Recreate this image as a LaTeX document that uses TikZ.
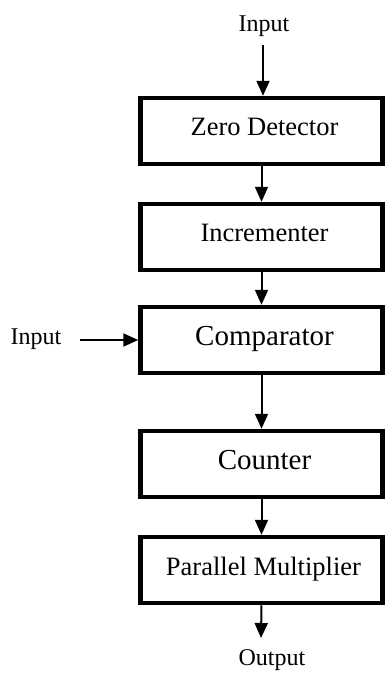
\documentclass[tikz,border=0pt]{standalone}
\usepackage{fontspec}
\setmainfont{Liberation Serif}
\usetikzlibrary{arrows.meta}
\begin{document}
\begin{tikzpicture}[x=1pt,y=-1pt,
  blk/.style={draw=black,line width=4.5pt,rectangle,minimum width=242pt,minimum height=66pt,inner sep=0pt,text depth=8pt},
  arr/.style={line width=2pt,-{Triangle[length=15pt,width=13pt]}},
  lbl/.style={inner sep=0pt,font=\fontsize{24}{28}\selectfont}]
\useasboundingbox (0,0) rectangle (385,673);
\node[blk,font=\fontsize{26.5}{30}\selectfont] (zd) at (261.5,131) {\hspace*{6pt}Zero Detector};
\node[blk,font=\fontsize{26.5}{30}\selectfont] (inc) at (261.5,237) {\hspace*{6pt}Incrementer};
\node[blk,font=\fontsize{29}{33}\selectfont] (cmp) at (261.5,340) {\hspace*{6pt}Comparator};
\node[blk,font=\fontsize{29}{33}\selectfont] (cnt) at (261.5,464) {\hspace*{6pt}Counter};
\node[blk,font=\fontsize{26.5}{30}\selectfont] (pm) at (261.5,570) {\hspace*{4pt}Parallel Multiplier};
\node[lbl] (in1) at (264,26) {Input};
\node[lbl] (in2) at (36,339) {Input};
\node[lbl] (out) at (272,660) {Output};
\coordinate (a0) at (263,45);
\coordinate (l0) at (80,340);
\coordinate (o1) at (261,638);
\draw[arr] (a0) -- (a0 |- zd.north);
\draw[arr] (zd.south) -- (inc.north);
\draw[arr] (inc.south) -- (cmp.north);
\draw[arr] (l0) -- (cmp.west);
\draw[arr] (cmp.south) -- (cnt.north);
\draw[arr] (cnt.south) -- (pm.north);
\draw[arr] (pm.south) -- (o1);
\end{tikzpicture}
\end{document}
